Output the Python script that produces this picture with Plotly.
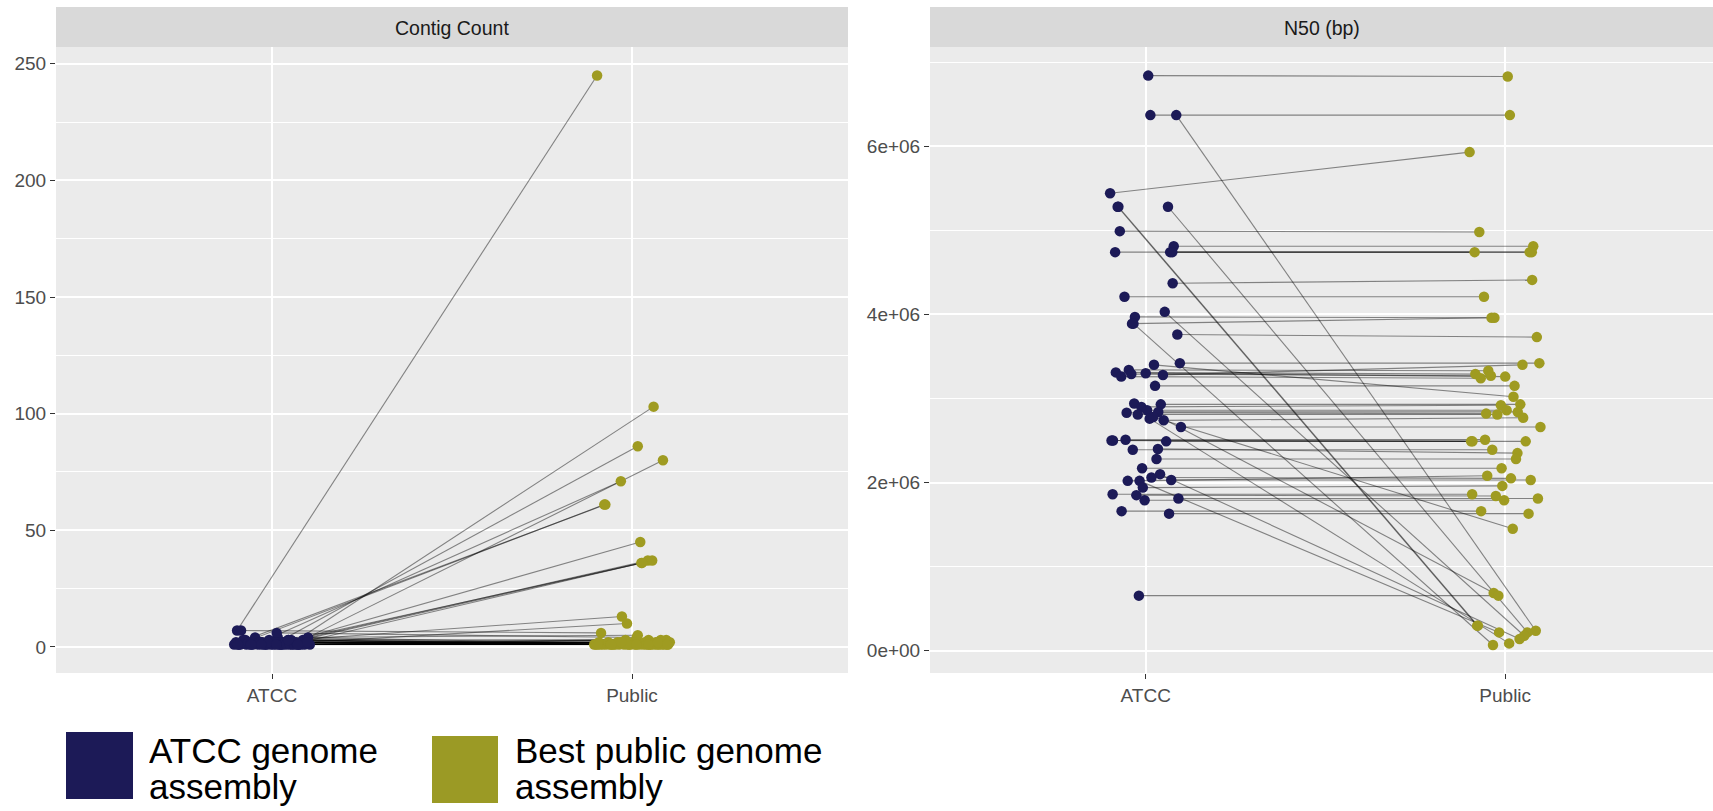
import plotly.graph_objects as go

# ---------------- data ----------------
categories = ["ATCC", "Public"]
panel_titles = ["Contig Count", "N50 (bp)"]
legend_labels = [["ATCC genome", "assembly"], ["Best public genome", "assembly"]]

count_ticks = [0, 50, 100, 150, 200, 250]
n50_ticks = [0, 2000000, 4000000, 6000000]
n50_ticktext = ["0e+00", "2e+06", "4e+06", "6e+06"]

# Contig count per sample (ATCC vs best public) and the per-sample horizontal jitter
count_atcc = [7, 2, 2, 3, 2, 2, 3, 1, 2, 1, 1, 2, 2, 1, 7, 4, 6, 3, 2,
              1, 2, 1, 1, 3, 1, 2, 1, 1, 4, 1, 2, 1, 1, 3, 1, 1, 2, 1, 1,
              2, 1, 1, 3, 1, 2, 1, 1, 1, 2, 1, 4, 1, 1, 2, 1, 3, 1, 1, 2, 1]
count_public = [245, 103, 86, 80, 71, 61, 61, 45, 37, 37, 36, 36, 13, 10, 6, 5, 4, 3, 3,
                1, 1, 2, 1, 1, 1, 2, 1, 1, 1, 2, 1, 1, 3, 1, 1, 2, 1, 1, 1,
                2, 1, 1, 1, 1, 2, 1, 1, 3, 1, 1, 1, 2, 1, 1, 1, 1, 2, 1, 1, 2]
count_jitter = [-0.097, 0.060, 0.016, 0.086, -0.031, -0.077, -0.074, 0.023, 0.044, 0.056,
                0.026, 0.028, -0.028, -0.014, -0.086, 0.016, 0.013, 0.046, 0.095,
                -0.105, -0.100, -0.092, -0.088, -0.080, -0.071, -0.066, -0.060, -0.052, -0.047,
                -0.040, -0.036, -0.022, -0.018, -0.008, -0.003, 0.004, 0.009, 0.020, 0.031,
                0.036, 0.040, 0.050, 0.053, 0.062, 0.066, 0.070, 0.075, 0.080, 0.083,
                0.090, 0.100, 0.105, -0.058, -0.012, 0.012, 0.045, 0.072, -0.095, 0.098, -0.030]

# N50 (bp) per sample and per-sample jitter
n50_atcc = [6840000, 6370000, 6370000, 5440000, 5280000, 5280000, 5280000, 4990000, 4740000, 4810000,
            4740000, 4740000, 4370000, 4210000, 4030000, 3970000, 3890000, 3890000, 3760000, 3420000,
            3400000, 3310000, 3340000, 3260000, 3290000, 3300000, 3280000, 3150000, 2940000, 2930000,
            2900000, 2860000, 2840000, 2830000, 2810000, 2760000, 2740000, 2660000, 2500000, 2500000,
            2510000, 2490000, 2390000, 2400000, 2280000, 2170000, 2100000, 2060000, 2020000, 2020000,
            2030000, 1940000, 1860000, 1850000, 1790000, 1810000, 1660000, 1630000, 655000, 2780000]
n50_public = [6830000, 6370000, 238000, 5930000, 298000, 298000, 218000, 4980000, 4740000, 4810000,
              4740000, 4740000, 4410000, 4210000, 178000, 3960000, 3960000, 68000, 3730000, 3420000,
              3020000, 3290000, 3330000, 3240000, 3270000, 3260000, 3400000, 3150000, 687000, 2930000,
              2920000, 2860000, 2840000, 2820000, 2810000, 87000, 2770000, 2660000, 2490000, 2490000,
              2510000, 2490000, 2390000, 2350000, 2280000, 2170000, 139000, 2050000, 2080000, 218000,
              2030000, 1960000, 1860000, 1840000, 1790000, 1810000, 1660000, 1630000, 655000, 1450000]
n50_jitter = [0.007, 0.013, 0.085, -0.099, -0.078, -0.076, 0.062, -0.072, -0.085, 0.078,
              0.068, 0.074, 0.075, -0.059, 0.053, -0.030, -0.038, -0.034, 0.088, 0.095,
              0.023, -0.083, -0.047, -0.068, -0.040, 0.000, 0.048, 0.026, -0.032, 0.042,
              -0.012, 0.004, 0.035, -0.053, -0.022, 0.011, 0.050, 0.098, -0.095, -0.091,
              -0.056, 0.057, -0.036, 0.034, 0.030, -0.010, 0.040, 0.016, -0.050, -0.017,
              0.071, -0.008, -0.092, -0.026, -0.003, 0.091, -0.067, 0.065, -0.019, 0.021]

# ---------------- styling ----------------
W, H = 1713, 811
ATCC_COL = "#1C1A57"
PUB_COL = "#9F9B21"
LINE_COL = "rgba(0,0,0,0.45)"
FONT = "Liberation Sans, Arial, sans-serif"
BG = "#EBEBEB"
STRIP = "#D9D9D9"

def px_x(p):
    return p / W

def px_y(p):
    return (H - p) / H

y_dom = [px_y(673), px_y(47)]
x1_dom = [px_x(56), px_x(848)]
x2_dom = [px_x(930), 1.0]

fig = go.Figure()

def add_panel(a_vals, p_vals, jit, xa, ya):
    for a, p, j in zip(a_vals, p_vals, jit):
        fig.add_trace(go.Scatter(
            x=[1 + j, 2 + j], y=[a, p], mode="lines",
            line=dict(color=LINE_COL, width=1.1), hoverinfo="skip",
            showlegend=False, xaxis=xa, yaxis=ya))
    fig.add_trace(go.Scatter(
        x=[1 + j for j in jit], y=a_vals, mode="markers",
        marker=dict(color=ATCC_COL, size=10.5, line=dict(width=0)),
        showlegend=False, xaxis=xa, yaxis=ya, name=categories[0]))
    fig.add_trace(go.Scatter(
        x=[2 + j for j in jit], y=p_vals, mode="markers",
        marker=dict(color=PUB_COL, size=10.5, line=dict(width=0)),
        showlegend=False, xaxis=xa, yaxis=ya, name=categories[1]))

add_panel(count_atcc, count_public, count_jitter, "x", "y")
add_panel(n50_atcc, n50_public, n50_jitter, "x2", "y2")

tickfont = dict(family=FONT, size=19, color="#4D4D4D")
common_x = dict(tickmode="array", tickvals=[1, 2], ticktext=categories,
                showgrid=True, gridcolor="white", gridwidth=1.9,
                zeroline=False, showline=False, ticks="outside", ticklen=5,
                tickwidth=1.4, tickcolor="#333333", tickfont=tickfont, fixedrange=True)

fig.update_layout(
    width=W, height=H,
    margin=dict(l=0, r=0, t=0, b=0),
    paper_bgcolor="white", plot_bgcolor=BG,
    showlegend=False,
    xaxis=dict(domain=x1_dom, range=[0.4, 2.6], anchor="y", **common_x),
    xaxis2=dict(domain=x2_dom, range=[0.4, 0.4 + (1713 - 930) / 359.5], anchor="y2", **common_x),
    yaxis=dict(domain=y_dom, range=[-11.2, 257.2], anchor="x",
               tickmode="array", tickvals=count_ticks,
               showgrid=True, gridcolor="white", gridwidth=1.9, zeroline=False,
               ticks="outside", ticklen=5, tickwidth=1.4, tickcolor="#333333",
               tickfont=tickfont,
               minor=dict(tickmode="linear", tick0=0, dtick=25, showgrid=True,
                          gridcolor="white", gridwidth=0.9, ticks="")),
    yaxis2=dict(domain=y_dom, range=[-265000, 7180000], anchor="x2",
                tickmode="array", tickvals=n50_ticks, ticktext=n50_ticktext,
                showgrid=True, gridcolor="white", gridwidth=1.9, zeroline=False,
                ticks="outside", ticklen=5, tickwidth=1.4, tickcolor="#333333",
                tickfont=tickfont,
                minor=dict(tickmode="linear", tick0=0, dtick=1000000, showgrid=True,
                           gridcolor="white", gridwidth=0.9, ticks="")),
)

# facet strips
shapes = []
annotations = []
for dom, title in zip([x1_dom, x2_dom], panel_titles):
    shapes.append(dict(type="rect", xref="paper", yref="paper",
                       x0=dom[0], x1=dom[1], y0=px_y(47), y1=px_y(7),
                       fillcolor=STRIP, line=dict(width=0), layer="below"))
    annotations.append(dict(xref="paper", yref="paper", x=(dom[0] + dom[1]) / 2,
                            y=px_y(28), text=title, showarrow=False,
                            xanchor="center", yanchor="middle",
                            font=dict(family=FONT, size=19.5, color="#1A1A1A")))

# manual legend at bottom
legend_boxes = [(66, 133, 732, 799, ATCC_COL, 148), (432, 498, 736, 803, "#9B9A25", 514)]
for (x0, x1, y0, y1, col, tx), lines in zip(legend_boxes, legend_labels):
    shapes.append(dict(type="rect", xref="paper", yref="paper",
                       x0=px_x(x0), x1=px_x(x1), y0=px_y(y1), y1=px_y(y0),
                       fillcolor=col, line=dict(width=0)))
    for k, txt in enumerate(lines):
        annotations.append(dict(xref="paper", yref="paper", x=px_x(tx),
                                y=px_y(750 + 36 * k), text=txt, showarrow=False,
                                xanchor="left", yanchor="middle", height=40,
                                valign="middle", borderpad=0,
                                font=dict(family=FONT, size=35, color="black")))

fig.update_layout(shapes=shapes, annotations=annotations)

fig.write_html("out.html")
